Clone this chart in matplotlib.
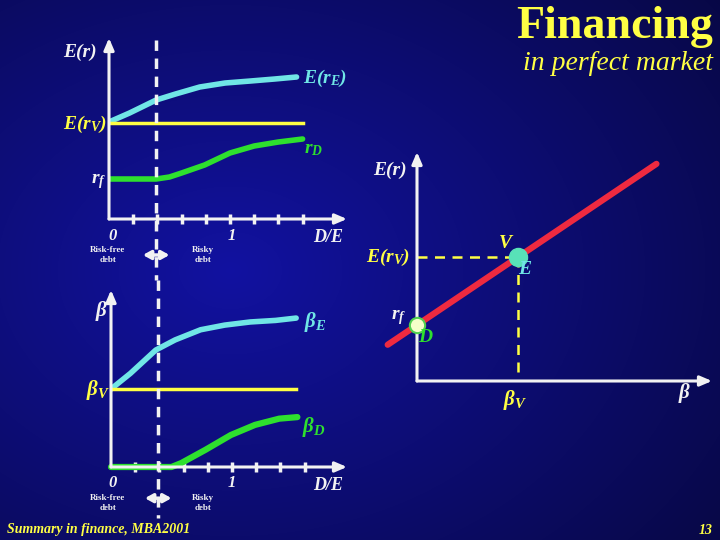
import numpy as np
import matplotlib.pyplot as plt
from matplotlib.transforms import blended_transform_factory

plt.rcParams['mathtext.fontset'] = 'custom'
plt.rcParams['mathtext.it'] = 'Liberation Serif:bold:italic'
plt.rcParams['mathtext.rm'] = 'Liberation Serif:bold:italic'
plt.rcParams['mathtext.bf'] = 'Liberation Serif:bold:italic'

# ---- data ----
# top panel: expected returns vs D/E
de_e = [0, 0.17, 0.39, 0.55, 0.75, 0.96, 1.17, 1.37, 1.55]
er_e = [9.7, 10.6, 11.9, 12.5, 13.2, 13.6, 13.8, 14.0, 14.2]
de_d = [0, 0.39, 0.5, 0.6, 0.79, 1.0, 1.2, 1.4, 1.6]
er_d = [4.0, 4.0, 4.2, 4.6, 5.4, 6.6, 7.3, 7.7, 8.0]
de_v = [0, 1.6]
er_v = [9.6, 9.6]
rf = 4.0
de_kink = 0.39

# bottom panel: betas vs D/E
de_be = [0, 0.16, 0.37, 0.53, 0.74, 0.94, 1.15, 1.36, 1.53]
beta_e = [1.0, 1.2, 1.5, 1.63, 1.76, 1.82, 1.86, 1.88, 1.91]
de_bd = [0, 0.5, 0.58, 0.78, 0.99, 1.19, 1.39, 1.54]
beta_d = [0, 0, 0.05, 0.22, 0.41, 0.54, 0.62, 0.64]
de_bv = [0, 1.53]
beta_v = [1.0, 1.0]

# right panel: security market line
beta_sml = [-0.29, 2.37]
beta_v_pt = 1.0
er_v_pt = 9.6

WHITE = '#f2f2f2'
CYAN = '#70e6e6'
YELLOW = '#ffff44'
GREEN = '#2ee02e'
RED = '#ee2a40'
SERIF = 'Liberation Serif'

W, H = 720, 540
fig = plt.figure(figsize=(7.2, 5.4), dpi=100)

# background gradient
bg = fig.add_axes([0, 0, 1, 1])
yy, xx = np.mgrid[0:H, 0:W]
d = np.sqrt(((xx - 230) / 720.0) ** 2 + ((yy - 270) / 540.0) ** 2)
b = 0.63 - 0.42 * d
img = np.dstack([0.07 * b / 0.63, 0.07 * b / 0.63, b])
bg.imshow(np.clip(img, 0, 1), extent=[0, W, H, 0], aspect='auto')
bg.set_xlim(0, W)
bg.set_ylim(H, 0)
bg.axis('off')


def px_axes(x0, x1, ytop, ybot, xlim, ylim):
    ax = fig.add_axes([x0 / W, 1 - ybot / H, (x1 - x0) / W, (ybot - ytop) / H])
    ax.set_xlim(*xlim)
    ax.set_ylim(*ylim)
    ax.patch.set_alpha(0)
    for s in ax.spines.values():
        s.set_visible(False)
    ax.set_yticks([])
    arr = dict(arrowstyle='-|>,head_length=0.7,head_width=0.3', color=WHITE, lw=2.2,
               shrinkA=0, shrinkB=0)
    ax.annotate('', xy=(1, 0), xytext=(0, 0), xycoords='axes fraction', arrowprops=arr)
    ax.annotate('', xy=(0, 1), xytext=(0, 0), xycoords='axes fraction', arrowprops=arr)
    return ax


def label(x, y, s, color=WHITE, size=14, ha='left', style='italic', weight='bold'):
    fig.text(x / W, 1 - y / H, s, color=color, fontsize=size, ha=ha, va='center',
             family=SERIF, style=style, weight=weight)


def de_ticks(ax):
    ax.set_xticks(np.arange(0.2, 1.61, 0.2))
    ax.set_xticklabels([])
    ax.tick_params(axis='x', direction='inout', length=7, width=2.5, color=WHITE)


def kink_marks(ax, y0, y1, yarrow):
    tr = blended_transform_factory(ax.transData, fig.transFigure)
    ax.plot([de_kink, de_kink], [1 - y0 / H, 1 - y1 / H], transform=tr, color=WHITE,
            lw=2.5, ls=(0, (3, 2.2)), clip_on=False)
    ax.annotate('', xy=(de_kink + 0.11, yarrow), xytext=(de_kink - 0.11, yarrow),
                arrowprops=dict(arrowstyle='<|-|>,head_length=0.45,head_width=0.25',
                                color=WHITE, lw=2.5, shrinkA=0, shrinkB=0),
                annotation_clip=False)


# ---- top panel ----
ax1 = px_axes(109, 347, 38, 219, (0, 1.967), (0, 18.1))
de_ticks(ax1)
ax1.plot(de_e, er_e, color=CYAN, lw=4, solid_capstyle='round')
ax1.plot(de_v, er_v, color=YELLOW, lw=2.5)
ax1.plot(de_d, er_d, color=GREEN, lw=4, solid_capstyle='round')
kink_marks(ax1, 40, 280, -3.6)

label(63, 52, 'E(r)', size=14)
label(303, 78, r'E(r$_{E}$)', color=CYAN, size=14)
label(63, 124, r'E(r$_{V}$)', color=YELLOW, size=14)
label(304, 150, r'r$_{D}$', color=GREEN, size=14)
label(91, 182, r'r$_{f}$', size=14)
label(113, 236, '0', size=12, ha='center')
label(232, 236, '1', size=12, ha='center')
label(313, 238, 'D/E', size=13)
label(108, 255, 'Risk-free\ndebt', size=6.5, ha='center', style='normal')
label(203, 255, 'Risky\ndebt', size=6.5, ha='center', style='normal')

# ---- bottom panel ----
ax2 = px_axes(111, 347, 290, 467, (0, 1.95), (0, 2.27))
de_ticks(ax2)
ax2.plot(de_be, beta_e, color=CYAN, lw=4, solid_capstyle='round')
ax2.plot(de_bv, beta_v, color=YELLOW, lw=2.5)
ax2.plot(de_bd, beta_d, color=GREEN, lw=4.5, solid_capstyle='round', clip_on=False)
kink_marks(ax2, 280, 518, -0.4)

label(96, 311, 'β', size=15)
label(304, 322, r'β$_{E}$', color=CYAN, size=15)
label(86, 390, r'β$_{V}$', color=YELLOW, size=15)
label(302, 427, r'β$_{D}$', color=GREEN, size=15)
label(113, 483, '0', size=12, ha='center')
label(232, 483, '1', size=12, ha='center')
label(313, 485, 'D/E', size=13)
label(108, 503, 'Risk-free\ndebt', size=6.5, ha='center', style='normal')
label(203, 503, 'Risky\ndebt', size=6.5, ha='center', style='normal')

# ---- right panel: SML ----
ax3 = px_axes(417, 712, 152, 381, (0, 2.92), (-0.61, 18.25))
ax3.set_xticks([])
er_sml = [rf + bb * (er_v_pt - rf) for bb in beta_sml]
ax3.plot(beta_sml, er_sml, color=RED, lw=4.5, solid_capstyle='round', clip_on=False)
ax3.plot([0, beta_v_pt], [er_v_pt, er_v_pt], color=YELLOW, lw=1.8, ls=(0, (4, 3)))
ax3.plot([beta_v_pt, beta_v_pt], [er_v_pt, -0.61], color=YELLOW, lw=1.8, ls=(0, (4, 3)))
ax3.plot([0], [rf], 'o', ms=11, mfc='#f4ffc8', mec='#50d050', mew=1.5, clip_on=False,
         zorder=5)
ax3.plot([beta_v_pt], [er_v_pt], 'o', ms=13, mfc='#58e2b8', mec='#58e2b8', zorder=5)

label(373, 170, 'E(r)', size=14)
label(366, 257, r'E(r$_{V}$)', color=YELLOW, size=14)
label(391, 318, r'r$_{f}$', size=14)
label(418, 338, 'D', color=GREEN, size=14)
label(499, 243, 'V', color=YELLOW, size=14)
label(518, 270, 'E', color=CYAN, size=14)
label(503, 400, r'β$_{V}$', color=YELLOW, size=15)
label(679, 393, 'β', size=15)

# ---- titles / footer ----
label(713, 27, 'Financing', color=YELLOW, size=33, ha='right', style='normal')
label(713, 64, 'in perfect market', color=YELLOW, size=20, ha='right', weight='normal')
label(7, 530, 'Summary in finance, MBA2001', color=YELLOW, size=10)
label(713, 530, '13', color=YELLOW, size=10, ha='right')

fig.savefig('out.png', dpi=100)
